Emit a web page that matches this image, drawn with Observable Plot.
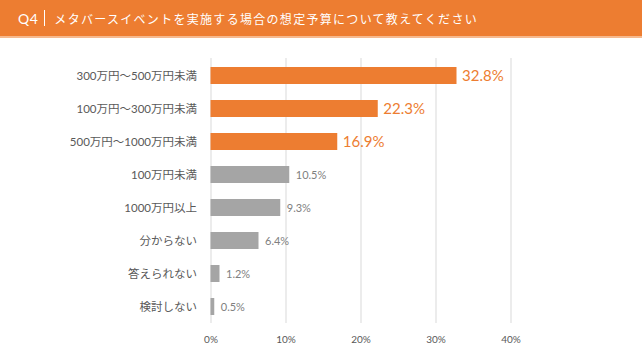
<!DOCTYPE html>
<html><head><meta charset="utf-8">
<script src="https://cdn.jsdelivr.net/npm/d3@7"></script>
<script src="https://cdn.jsdelivr.net/npm/@observablehq/plot@0.6"></script>
<style>
body{margin:0;background:#fff;font-family:"Noto Sans CJK JP",sans-serif;}
#hdr{height:36px;background:#ED7D31;border-bottom:2px solid #F6B98E;color:#fff;display:flex;align-items:center;padding-left:18px;font-size:12px;letter-spacing:1.3px;}
#hdr .q{font-family:Lato,"Noto Sans CJK JP";font-size:14px;letter-spacing:0.5px;}
#hdr .sep{display:inline-block;width:1px;height:16px;background:#fff;margin:0 9px 0 6px;}
</style></head><body>
<div id="hdr"><span class="q">Q4</span><span class="sep"></span><span>メタバースイベントを実施する場合の想定予算について教えてください</span></div>
<div id="chart"></div>
<script>
const categories = ["300万円～500万円未満","100万円～300万円未満","500万円～1000万円未満","100万円未満","1000万円以上","分からない","答えられない","検討しない"];
const values = [32.8,22.3,16.9,10.5,9.3,6.4,1.2,0.5];
const highlight = [true,true,true,false,false,false,false,false];
const ticks = [0,10,20,30,40];
const data = categories.map((c,i)=>({c,v:values[i],h:highlight[i]}));
const orange="#ED7D31", gray="#A5A5A5";
const chart = Plot.plot({
  width:642, height:323,
  marginLeft:210.5, marginRight:131.5, marginTop:20, marginBottom:38,
  style:{fontFamily:'Lato,"Noto Sans CJK JP",sans-serif', color:"#595959", background:"#fff"},
  x:{domain:[0,40], ticks, tickFormat:d=>d+"%", tickSize:0, tickPadding:12, label:null},
  y:{domain:categories, paddingInner:0.5, paddingOuter:0.25, tickSize:0, tickPadding:14, label:null},
  marks:[
    Plot.ruleX(ticks,{stroke:"#D9D9D9",strokeWidth:1}),
    Plot.barX(data,{x:"v",y:"c",fill:d=>d.h?orange:gray}),
    Plot.text(data.filter(d=>d.h),{x:"v",y:"c",text:d=>d.v.toFixed(1)+"%",dx:5,textAnchor:"start",fill:orange,fontSize:15}),
    Plot.text(data.filter(d=>!d.h),{x:"v",y:"c",text:d=>d.v.toFixed(1)+"%",dx:6,textAnchor:"start",fill:"#808080",fontSize:11}),
    Plot.axisY({tickSize:0,tickPadding:14,fontSize:11.5,fill:"#595959",style:{letterSpacing:"0.8px"}}),
    Plot.axisX({ticks,tickFormat:d=>d+"%",tickSize:0,tickPadding:12,fontSize:10,fill:"#595959"})
  ]
});
document.getElementById("chart").appendChild(chart);
</script>
</body></html>
